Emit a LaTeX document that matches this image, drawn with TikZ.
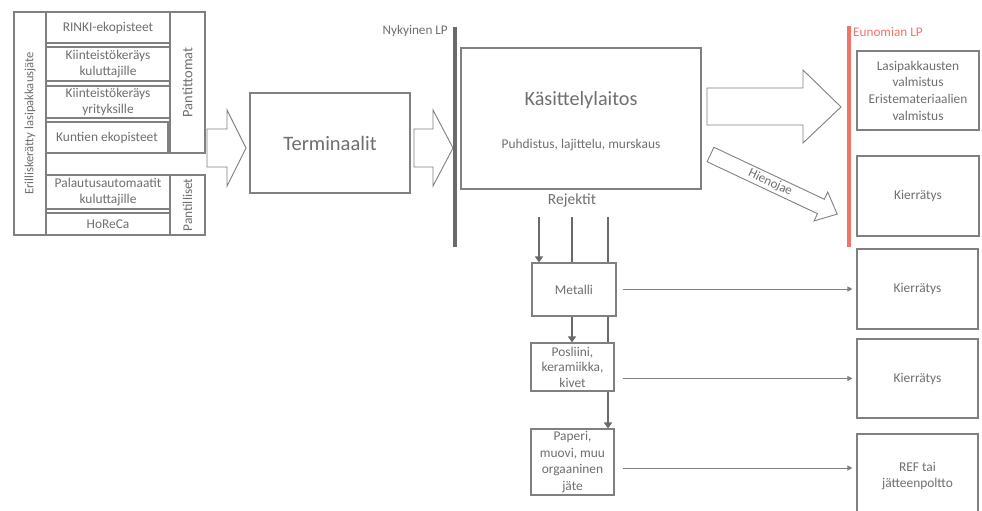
\documentclass[tikz,border=0pt]{standalone}
\usepackage{fontspec}
\setmainfont{Carlito}
\usetikzlibrary{arrows.meta,calc}
\pgfdeclarelayer{background}
\pgfsetlayers{background,main}
\definecolor{bordergray}{HTML}{808080}
\definecolor{textgray}{HTML}{6F6F6F}
\definecolor{linegray}{HTML}{6A6A6A}
\definecolor{lpred}{HTML}{F07468}
\tikzset{
  box/.style={draw=bordergray, line width=1.1pt, fill=white, text=textgray,
    align=center, inner sep=1pt, font=\fontsize{13.4}{16}\selectfont},
  blockarrow/.style={draw=bordergray, line width=0.9pt, fill=white},
  thickline/.style={draw=linegray, line width=2.6pt},
  thickarrow/.style={thickline, -{Triangle[width=8pt,length=6pt]}},
  thinarrow/.style={draw=bordergray, line width=1pt, -{Triangle[width=5pt,length=5pt]}},
  lbl/.style={text=textgray, inner sep=0pt},
}
\begin{document}
\begin{tikzpicture}[x=1pt,y=-1pt]
\useasboundingbox (0,0) rectangle (982,511);

% ---- left group ----
\node[box, minimum width=32pt, minimum height=223pt] (outer) at (30,123.5) {};
\node[lbl, rotate=90, font=\fontsize{12.6}{15}\selectfont] (outerlbl) at (outer.center) {Erilliskerätty lasipakkausjäte};
\node[box, minimum width=124pt, minimum height=31pt] (rinki) at (108,27.5) {RINKI-ekopisteet};
\node[box, minimum width=124pt, minimum height=34pt] (kk) at (108,64) {Kiinteistökeräys\\kuluttajille};
\node[box, minimum width=124pt, minimum height=32pt] (ky) at (108,102) {Kiinteistökeräys\\yrityksille};
\node[box, minimum width=122pt, minimum height=31pt] (kunt) at (107,137.5) {Kuntien ekopisteet};
\node[box, minimum width=35pt, minimum height=141pt] (pantittomat) at (187.5,82.5) {};
\node[lbl, rotate=90, font=\fontsize{14.5}{16}\selectfont] (pantittomatlbl) at (pantittomat.center) {Pantittomat};
\node[box, minimum width=124pt, minimum height=34pt] (palaut) at (108,192) {Palautusautomaatit\\kuluttajille};
\node[box, minimum width=124pt, minimum height=22pt] (horeca) at (108,224) {HoReCa};
\node[box, minimum width=35pt, minimum height=60pt] (pantilliset) at (187.5,205) {};
\node[lbl, rotate=90, font=\fontsize{13.4}{16}\selectfont] (pantillisetlbl) at (pantilliset.center) {Pantilliset};

% ---- block arrow 1 ----
\draw[blockarrow] (207,129) -- (227,129) -- (227,110) -- (246,148) -- (227,186) -- (227,167) -- (207,167) -- cycle;

% ---- Terminaalit ----
\node[box, minimum width=160pt, minimum height=100pt, font=\fontsize{20.5}{24}\selectfont] (term) at (330,143) {Terminaalit};

% ---- block arrow 2 ----
\draw[blockarrow] (414,129) -- (433,129) -- (433,110) -- (453,148) -- (433,186) -- (433,167) -- (414,167) -- cycle;

% ---- Nykyinen LP ----
\coordinate (nyktop) at (455,27);
\coordinate (nykbot) at (455,247);
\draw[draw=linegray, line width=3.3pt] (nyktop) -- (nykbot);
\node[lbl, anchor=east, font=\fontsize{13.2}{15}\selectfont] (nyklbl) at (448,31) {Nykyinen LP};

% ---- Kasittelylaitos ----
\node[box, minimum width=240pt, minimum height=141pt] (kas) at (581,118.5) {};
\node[lbl, font=\fontsize{20.2}{24}\selectfont] (kastitle) at (581,100) {Käsittelylaitos};
\node[lbl, font=\fontsize{13.4}{16}\selectfont] (kassub) at (581,145) {Puhdistus, lajittelu, murskaus};

% ---- big arrow ----
\draw[blockarrow] (707,88) -- (803,88) -- (803,70) -- (841,107) -- (803,143) -- (803,125) -- (707,125) -- cycle;

% ---- Hienojae arrow ----
\begin{scope}[shift={(710.5,154.5)}, rotate=-25.2]
  \draw[blockarrow] (0,-8) -- (122,-8) -- (122,-16) -- (140,0) -- (122,16) -- (122,8) -- (0,8) -- cycle;
  \node[lbl, rotate=-25.2, font=\fontsize{13}{15}\selectfont] (hieno) at (66,0) {Hienojae};
\end{scope}

% ---- Eunomian LP ----
\coordinate (redtop) at (849,26);
\coordinate (redbot) at (849,247);
\draw[draw=lpred, line width=3.3pt] (redtop) -- (redbot);
\node[anchor=west, text=lpred, inner sep=0pt, font=\fontsize{13.2}{15}\selectfont] (eulbl) at (853,32) {Eunomian LP};

% ---- right boxes ----
\node[box, minimum width=122pt, minimum height=79pt, font=\fontsize{13.4}{16.7}\selectfont] (lasi) at (918,90.5) {Lasipakkausten\\valmistus\\Eristemateriaalien\\valmistus};
\node[box, minimum width=122pt, minimum height=80pt] (kier0) at (918,196) {Kierrätys};
\node[box, minimum width=121pt, minimum height=80pt] (kier1) at (917.5,289) {Kierrätys};
\node[box, minimum width=121pt, minimum height=79pt] (kier2) at (917.5,378.5) {Kierrätys};
\node[box, minimum width=121pt, minimum height=84pt] (ref) at (917.5,476) {REF tai\\jätteenpoltto};

% ---- Rejektit ----
\node[lbl, font=\fontsize{15.5}{18}\selectfont] (rej) at (572,200) {Rejektit};
\coordinate (r1) at (539,217);
\coordinate (r2) at (572,217);
\coordinate (r3) at (608,217);

\node[box, minimum width=84pt, minimum height=53pt] (metalli) at (574,289.5) {Metalli};
\node[box, minimum width=83pt, minimum height=48pt, font=\fontsize{13.4}{15.5}\selectfont] (posl) at (572.5,367) {Posliini,\\keramiikka,\\kivet};
\node[box, minimum width=83pt, minimum height=66pt, font=\fontsize{13.4}{16.7}\selectfont] (paperi) at (572.5,462) {Paperi,\\muovi, muu\\orgaaninen\\jäte};

\begin{pgfonlayer}{background}
  \draw[thickarrow] (r1) -- (r1 |- metalli.north);
  \draw[thickline] (r2) -- (r2 |- metalli.north);
  \draw[thickarrow] (r2 |- metalli.south) -- (r2 |- posl.north);
  \draw[thickarrow] (r3) -- (r3 |- paperi.north);
\end{pgfonlayer}

% ---- thin arrows ----
\draw[thinarrow] ([xshift=6pt]metalli.east |- kier1.west) -- ([xshift=-4pt]kier1.west);
\draw[thinarrow] ([xshift=8pt]posl.east |- kier2.west) -- ([xshift=-4pt]kier2.west);
\draw[thinarrow] ($(paperi.east)+(8,6)$) -- ($(ref.west |- paperi.east)+(-4,6)$);

\end{tikzpicture}
\end{document}
